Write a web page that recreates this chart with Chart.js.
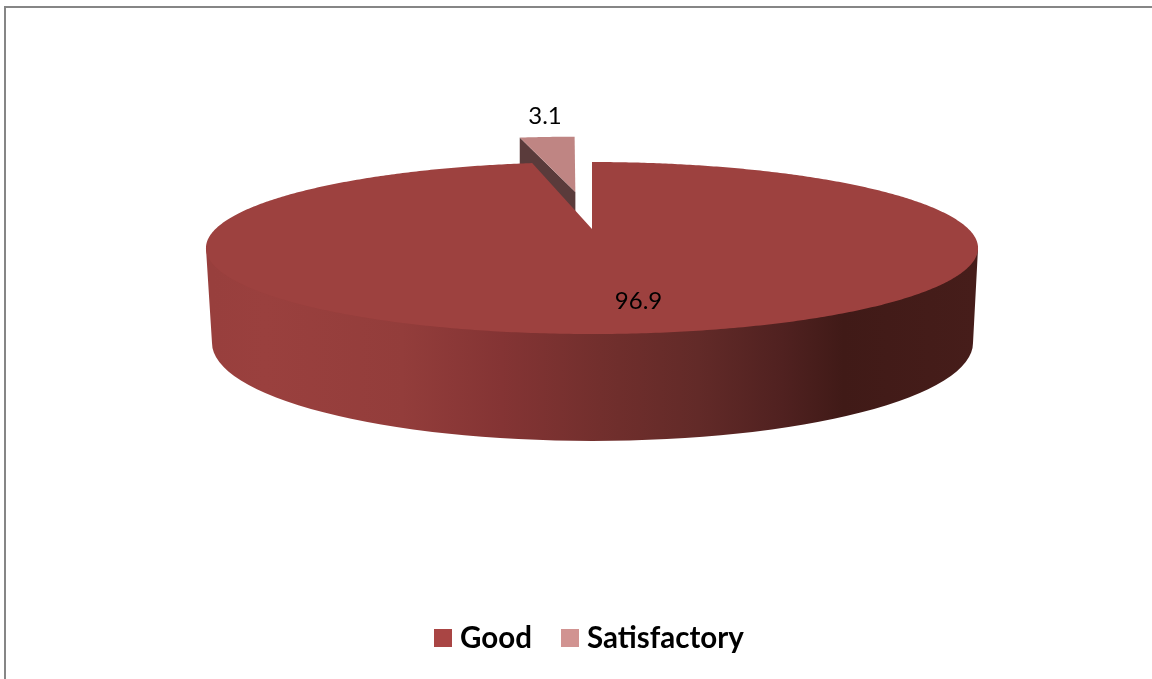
<!DOCTYPE html>
<html>
<head>
<meta charset="utf-8">
<style>
    html, body {margin: 0; padding: 0; background: #fff; overflow: hidden;}
    canvas {display: block;}
</style>
<script src="https://cdn.jsdelivr.net/npm/chart.js@4"></script>
</head>
<body>
<canvas id="myChart" width="1152" height="679"></canvas>
<script>
const categories = ["Good", "Satisfactory"];
const values = [96.9, 3.1];
const valueLabels = ["96.9", "3.1"];

const legendColors = ["#a94544", "#d19391"];
const topColors = ["#9d413f", "#bf8583"];
const wedgeWallColor = "#5a3b3b";

// pie seen in perspective: unit disc -> screen
const cx = 592, cy = 229;
const A = 376.5, B = 81.8, k = 0.221;
const bottomRim = {x: 592.5, y: 343, rx: 380.5, ry: 98};
const explode = [0, 0.505];
const wedgeDepth = 40;
const wedgeShear = 3.5;
const labelPos = [[638.5, 301], [545, 116]];
const legendBoxes = [434, 561];
const legendText = [460, 587];

function project(u, v) {
    let w = 1 + k * v;
    return [cx + A * u / w, cy - B * v / w];
}

function slicePoints(el, offset) {
    let mid = (el.startAngle + el.endAngle) / 2;
    let ou = Math.cos(mid) * offset, ov = -Math.sin(mid) * offset;
    let pts = [project(ou, ov)];
    let n = Math.ceil((el.endAngle - el.startAngle) / 0.01);
    for (let i = 0; i <= n; i++) {
        let a = el.startAngle + (el.endAngle - el.startAngle) * i / n;
        pts.push(project(ou + Math.cos(a), ov - Math.sin(a)));
    }
    return pts;
}

function fillPoly(ctx, pts, color) {
    ctx.beginPath();
    pts.forEach((p, i) => i ? ctx.lineTo(p[0], p[1]) : ctx.moveTo(p[0], p[1]));
    ctx.closePath();
    ctx.fillStyle = color;
    ctx.fill();
}

function drawSideWall(ctx) {
    let a0 = Math.asin(k), a1 = Math.PI - a0;
    let grad = ctx.createLinearGradient(212, 0, 973, 0);
    grad.addColorStop(0, "#983f3d");
    grad.addColorStop(0.07, "#9a403e");
    grad.addColorStop(0.25, "#933d3b");
    grad.addColorStop(0.38, "#843434");
    grad.addColorStop(0.51, "#722f2d");
    grad.addColorStop(0.64, "#622a28");
    grad.addColorStop(0.75, "#502120");
    grad.addColorStop(0.83, "#401a17");
    grad.addColorStop(1, "#461d1a");
    ctx.beginPath();
    // start inside the top face so no seam shows along the rim
    let start = project(Math.cos(a0), -Math.sin(a0));
    ctx.moveTo(start[0], start[1]);
    ctx.lineTo(cx, cy + 40);
    let end = project(Math.cos(a1), -Math.sin(a1));
    ctx.lineTo(end[0], end[1]);
    ctx.ellipse(bottomRim.x, bottomRim.y, bottomRim.rx, bottomRim.ry, 0, Math.PI, 0, true);
    ctx.closePath();
    ctx.fillStyle = grad;
    ctx.fill();
}

const pie3d = {
    id: "pie3d",
    beforeDatasetsDraw(chart) {
        const ctx = chart.ctx;
        const els = chart.getDatasetMeta(0).data;
        ctx.save();

        // frame, open on right and bottom like the source crop
        ctx.strokeStyle = "#868686";
        ctx.lineWidth = 2;
        ctx.beginPath();
        ctx.moveTo(5, 679);
        ctx.lineTo(5, 7);
        ctx.lineTo(1152, 7);
        ctx.stroke();

        // exploded wedge first, good slice covers its lower part
        let wedge = slicePoints(els[1], explode[1]);
        let apexY = wedge[0][1];
        wedge = wedge.map(p => [p[0] - wedgeShear * (apexY - p[1]) / 55, p[1]]);
        let apex = wedge[0], rimLeft = wedge[1];
        fillPoly(ctx, [apex, rimLeft, [rimLeft[0], rimLeft[1] + wedgeDepth], [apex[0], apex[1] + wedgeDepth]], wedgeWallColor);
        fillPoly(ctx, wedge, topColors[1]);

        drawSideWall(ctx);
        fillPoly(ctx, slicePoints(els[0], explode[0]), topColors[0]);

        // value labels
        ctx.fillStyle = "#000";
        ctx.font = "24px Lato";
        ctx.textAlign = "center";
        ctx.textBaseline = "middle";
        valueLabels.forEach((t, i) => ctx.fillText(t, labelPos[i][0], labelPos[i][1]));

        // legend
        ctx.font = "bold 29.5px Lato";
        ctx.textAlign = "left";
        chart.data.labels.forEach((t, i) => {
            ctx.fillStyle = legendColors[i];
            ctx.fillRect(legendBoxes[i], 629, 18, 18);
            ctx.fillStyle = "#000";
            ctx.fillText(t, legendText[i], 638);
        });
        ctx.restore();
        return false;
    }
};

new Chart(document.getElementById("myChart"), {
    type: "pie",
    data: {
        labels: categories,
        datasets: [{data: values, backgroundColor: legendColors, borderWidth: 0}]
    },
    options: {
        responsive: false,
        animation: false,
        plugins: {legend: {display: false}, tooltip: {enabled: false}}
    },
    plugins: [pie3d]
});
</script>
</body>
</html>
